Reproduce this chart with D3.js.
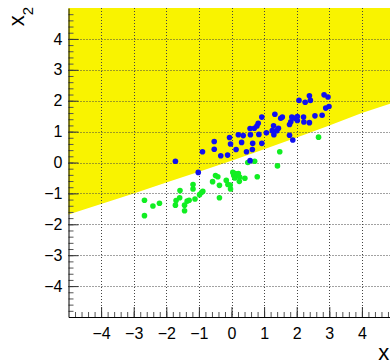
<!DOCTYPE html>
<html>
<head>
<meta charset="utf-8">
<script src="https://cdn.jsdelivr.net/npm/d3@7"></script>
<style>
  html, body { margin: 0; padding: 0; background: #fff; }
  svg { display: block; font-family: "Liberation Sans", Arial, sans-serif; }
</style>
</head>
<body>
<div id="chart"></div>
<script>
// tick labels
const xTicks = [-4, -3, -2, -1, 0, 1, 2, 3, 4];
const yTicks = [-4, -3, -2, -1, 0, 1, 2, 3, 4];

// decision boundary (x1, x2), yellow above
const boundary = [
  [-5, -1.68], [-4, -1.34], [-3, -1.0], [-2, -0.65], [-1, -0.30],
  [0, 0.06], [1, 0.43], [2, 0.81], [3, 1.2], [4, 1.6], [5, 1.95]
];

// signal (blue) points
const blueX = [-1.72, -0.89, -1.02, -0.53, -0.53, -0.33, -0.12, -0.06, -0.03, 0.14, 0.21, 0.31, 0.36, 0.46, 0.57,
  0.57, 0.58, 0.64, 0.65, 0.70, 0.78, 0.84, 0.82, 0.93, 0.93, 1.07, 1.25, 1.29, 1.33, 1.39, 1.44, 1.30,
  1.51, 1.56, 1.78, 1.78, 1.82, 1.85, 1.88, 1.94, 2.02, 2.02, 2.21, 2.22, 2.39, 2.56, 2.78,
  2.07, 2.26, 2.39, 2.42, 2.84, 2.96, 2.89, 2.99];
const blueY = [0.04, 0.35, -0.32, 0.68, 0.43, 0.22, 0.24, 0.81, 0.60, 0.42, 0.90, 0.65, 0.87, 0.35, 0.06,
  1.10, 0.90, 0.42, 0.62, 1.11, 1.18, 0.91, 1.27, 1.47, 0.62, 0.96, 1.03, 1.19, 1.56, 1.03, 1.11, 0.90,
  1.43, 1.47, 1.23, 0.88, 1.32, 1.47, 0.73, 1.43, 1.49, 1.36, 1.47, 1.31, 1.29, 1.51, 1.53,
  2.01, 1.95, 2.16, 2.01, 2.19, 2.12, 1.76, 1.81];

// background (green) points
const greenX = [-2.67, -2.67, -2.41, -2.21, -1.72, -1.70, -1.59, -1.58, -1.44, -1.44, -1.36, -1.30, -1.18, -1.18,
  -1.12, -0.98, -0.92, -0.88, -0.58, -0.49, -0.42, -0.37, -0.37, -0.16, -0.11, -0.03, -0.04, 0.04, 0.07,
  0.10, 0.11, 0.17, 0.21, 0.24, 0.25, 0.41, 0.50, 0.71, 0.79, 1.41, 1.48, 2.67];
const greenY = [-1.22, -1.72, -1.41, -1.32, -1.38, -1.23, -1.14, -0.91, -1.38, -1.56, -1.25, -1.22, -0.71, -0.86,
  -1.18, -1.04, -0.97, -0.93, -0.62, -0.42, -0.46, -0.74, -1.14, -0.58, -0.71, -0.86, -0.73, -0.32, -0.42,
  -0.50, -0.36, -0.42, -0.36, -0.61, -0.47, -0.51, 0.00, 0.04, -0.46, -0.11, 0.35, 0.82];

const width = 390, height = 363;

const svg = d3.select('#chart')
  .append('svg')
  .attr('width', width)
  .attr('height', height);

const x = d3.scaleLinear().domain([-5, 5]).range([68.5, 394.5]);
const y = d3.scaleLinear().domain([-5, 5]).range([317, 8]);

// yellow region
svg.append('path')
  .datum(boundary)
  .attr('fill', '#f9f300')
  .attr('d', d3.area()
    .x(d => x(d[0]))
    .y0(y(5))
    .y1(d => y(d[1])));

// dotted grid
const grid = svg.append('g')
  .attr('stroke', '#444')
  .attr('stroke-width', 1)
  .attr('stroke-dasharray', '1,2');
grid.selectAll('.gx')
  .data(xTicks)
  .join('line')
  .attr('x1', d => Math.round(x(d)) + 0.5)
  .attr('x2', d => Math.round(x(d)) + 0.5)
  .attr('y1', y(5))
  .attr('y2', y(-5));
grid.selectAll('.gy')
  .data(yTicks)
  .join('line')
  .attr('y1', d => Math.round(y(d)) + 0.5)
  .attr('y2', d => Math.round(y(d)) + 0.5)
  .attr('x1', x(-5))
  .attr('x2', x(5));

// points
const pts = svg.append('g');
pts.selectAll('.g')
  .data(greenX.map((v, i) => [v, greenY[i]]))
  .join('circle')
  .attr('cx', d => x(d[0]))
  .attr('cy', d => y(d[1]))
  .attr('r', 2.8)
  .attr('fill', '#11ee22');
pts.selectAll('.b')
  .data(blueX.map((v, i) => [v, blueY[i]]))
  .join('circle')
  .attr('cx', d => x(d[0]))
  .attr('cy', d => y(d[1]))
  .attr('r', 2.8)
  .attr('fill', '#1010f0');

// minor ticks
const minor = d3.range(-4.8, 5, 0.2).map(v => +v.toFixed(1));
svg.append('g')
  .attr('transform', `translate(0,${y(-5)})`)
  .call(d3.axisBottom(x).tickValues(minor).tickSize(-5).tickFormat(''))
  .call(g => g.select('.domain').remove())
  .call(g => g.selectAll('line').attr('stroke', '#555'));
svg.append('g')
  .attr('transform', `translate(${x(-5)},0)`)
  .call(d3.axisLeft(y).tickValues(minor).tickSize(-5).tickFormat(''))
  .call(g => g.select('.domain').remove())
  .call(g => g.selectAll('line').attr('stroke', '#555'));

// major axes
svg.append('g')
  .attr('transform', `translate(0,${y(-5)})`)
  .call(d3.axisBottom(x).tickValues(xTicks).tickSize(-10).tickSizeOuter(0).tickPadding(11))
  .call(g => g.selectAll('line').attr('stroke', '#333'))
  .call(g => g.select('.domain').attr('stroke', '#000'))
  .call(g => g.selectAll('text').attr('font-size', 16).attr('fill', '#000')
    .attr('font-family', '"Liberation Sans", Arial, sans-serif'));

svg.append('g')
  .attr('transform', `translate(${x(-5)},0)`)
  .call(d3.axisLeft(y).tickValues(yTicks).tickSize(-10).tickSizeOuter(0).tickPadding(6))
  .call(g => g.selectAll('line').attr('stroke', '#333'))
  .call(g => g.select('.domain').attr('stroke', '#000'))
  .call(g => g.selectAll('text').attr('font-size', 16).attr('fill', '#000')
    .attr('font-family', '"Liberation Sans", Arial, sans-serif'));

// axis titles (the x title runs past the right edge, as in the original)
const xt = svg.append('text')
  .attr('x', x(5) + 3)
  .attr('y', 360)
  .attr('text-anchor', 'end')
  .attr('font-size', 22);
xt.append('tspan').text('x');
xt.append('tspan').attr('baseline-shift', 'sub').attr('font-size', 15).text('1');

const yt = svg.append('text')
  .attr('transform', `translate(24,${y(5) - 1}) rotate(-90)`)
  .attr('text-anchor', 'end')
  .attr('font-size', 22);
yt.append('tspan').text('x');
yt.append('tspan').attr('baseline-shift', 'sub').attr('font-size', 15).text('2');
</script>
</body>
</html>
